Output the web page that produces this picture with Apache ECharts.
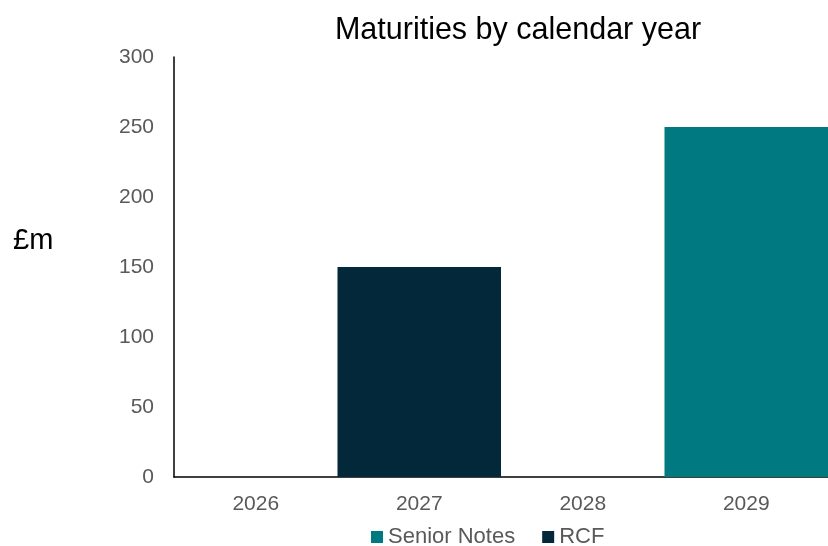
<!DOCTYPE html>
<html><head><meta charset="utf-8">
<script src="https://cdn.jsdelivr.net/npm/echarts@6/dist/echarts.min.js"></script>
<style>html,body{margin:0;padding:0;background:#fff}#c{width:828px;height:546px}</style>
</head><body><div id="c"></div>
<script>
const categories = ['2026','2027','2028','2029'];
const seniorNotes = [0, 0, 0, 250];
const rcf = [0, 150, 0, 0];
const yTicks = [0, 50, 100, 150, 200, 250, 300];

const chart = echarts.init(document.getElementById('c'), null, {renderer:'canvas'});
const font = '"Liberation Sans", Arial, sans-serif';
chart.setOption({
  animation:false,
  textStyle:{fontFamily:font},
  title:{text:'Maturities by calendar year', left:513, top:10, textAlign:'center',
    textStyle:{fontFamily:font, fontSize:30.5, fontWeight:'normal', color:'#000'}},
  graphic:[{type:'text', left:13, top:226, style:{text:'£m', font:'29px "Liberation Sans", Arial, sans-serif', fill:'#000'}}],
  legend:{bottom:-7, left:366, itemWidth:12, itemHeight:12, itemGap:27, icon:'rect',
    textStyle:{fontFamily:font, fontSize:22, color:'#595959'}, data:['Senior Notes','RCF']},
  grid:{left:174, right:-2, top:57, bottom:69},
  xAxis:{type:'category', data:categories, axisTick:{show:false},
    axisLine:{lineStyle:{color:'#000', width:1.5}},
    axisLabel:{fontFamily:font, fontSize:21, color:'#595959', margin:17}},
  yAxis:{type:'value', min:yTicks[0], max:yTicks[yTicks.length-1], interval:50,
    splitLine:{show:false}, axisTick:{show:false},
    axisLine:{show:true, lineStyle:{color:'#000', width:1.5}},
    axisLabel:{fontFamily:font, fontSize:21, color:'#595959', margin:20}},
  series:[
    {name:'Senior Notes', type:'bar', stack:'a', data:seniorNotes, barWidth:'100%', itemStyle:{color:'#007A80'}},
    {name:'RCF', type:'bar', stack:'a', data:rcf, barWidth:'100%', itemStyle:{color:'#02283A'}}
  ]
});
</script></body></html>
